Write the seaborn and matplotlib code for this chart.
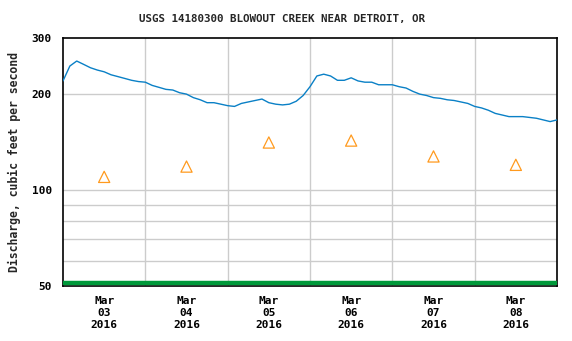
import numpy as np
import pandas as pd
import matplotlib
matplotlib.use("Agg")
import matplotlib.pyplot as plt
import matplotlib.dates as mdates
import seaborn as sns

title = "USGS 14180300 BLOWOUT CREEK NEAR DETROIT, OR"
ylabel = "Discharge, cubic feet per second"

# discharge, every 2 hours starting 2016-03-03 00:00
hours = list(range(0, 146, 2))
discharge = [220, 245, 254, 248, 242, 238, 235, 230, 227, 224, 221, 219,
             218, 213, 210, 207, 206, 202, 200, 195, 192, 188, 188, 186,
             184, 183, 187, 189, 191, 193, 188, 186, 185, 186, 190, 198,
             211, 228, 231, 228, 221, 221, 225, 220, 218, 218, 214, 214,
             214, 211, 209, 204, 200, 198, 195, 194, 192, 191, 189, 187,
             183, 181, 178, 174, 172, 170, 170, 170, 169, 168, 166, 164,
             166]

median_days = ["2016-03-03 12:00", "2016-03-04 12:00", "2016-03-05 12:00",
               "2016-03-06 12:00", "2016-03-07 12:00", "2016-03-08 12:00"]
median_vals = [110, 118.5, 141, 143, 127.5, 120]

yticks = [50, 100, 200, 300]
ygrid = [60, 70, 80, 90, 100, 200]
bar_value = 51.2

start = pd.Timestamp("2016-03-03 00:00")
df = pd.DataFrame({"time": [start + pd.Timedelta(hours=h) for h in hours],
                   "q": discharge})
med = pd.DataFrame({"time": pd.to_datetime(median_days), "q": median_vals})

sns.set_style("white")
plt.rcParams["font.family"] = ["DejaVu Sans Mono"]
plt.rcParams["font.weight"] = "bold"

fig = plt.figure(figsize=(5.72, 3.41), dpi=100)
ax = fig.add_axes([63/572, 1-286/341, (557-63)/572, (286-38)/341])

ax.set_yscale("log")
ax.set_ylim(50, 300)
ax.set_xlim(start, pd.Timestamp("2016-03-09 00:00"))

for g in ygrid:
    ax.axhline(g, color="#cccccc", lw=1.0, zorder=0)
for d in pd.date_range("2016-03-04", "2016-03-08", freq="D"):
    ax.axvline(d, color="#cccccc", lw=1.0, zorder=0)

ax.axhline(bar_value, color="#00993a", lw=3.2, zorder=3)

sns.lineplot(data=df, x="time", y="q", ax=ax, color="#0a80c6", lw=1.0,
             zorder=4)
ax.scatter(med["time"], med["q"], marker="^", s=65, facecolors="none",
           edgecolors="#ff9a1e", linewidths=0.9, zorder=5)

ax.yaxis.set_major_locator(matplotlib.ticker.FixedLocator(yticks))
ax.yaxis.set_minor_locator(matplotlib.ticker.NullLocator())
ax.yaxis.set_major_formatter(matplotlib.ticker.FixedFormatter([str(v) for v in yticks]))

ax.set_xticks(med["time"])
ax.set_xticklabels([f"Mar\n{t.day:02d}\n2016" for t in med["time"]],
                   fontsize=8, fontweight="bold", linespacing=1.25)
ax.tick_params(axis="both", length=0, labelsize=8, colors="black")
ax.tick_params(axis="x", pad=7)
ax.tick_params(axis="y", pad=8)
for lab in ax.get_yticklabels():
    lab.set_fontweight("bold")

ax.set_xlabel("")
ax.set_ylabel(ylabel, fontsize=8.3, fontweight="bold", labelpad=8)
fig.text(282/572, 1-19/341, title, ha="center", va="center",
         fontsize=7.8, fontweight="bold")

for s in ax.spines.values():
    s.set_visible(True)
    s.set_color("black")
    s.set_linewidth(1.2)

fig.savefig("out.png", dpi=100, facecolor="white")
